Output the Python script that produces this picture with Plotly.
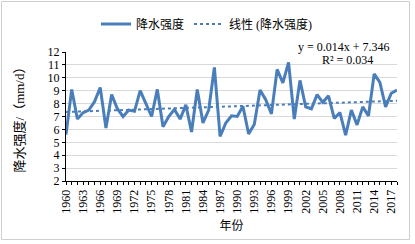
import numpy as np
import plotly.graph_objects as go

years = list(range(1960, 2019))
intensity = [5.6, 9.1, 6.8, 7.3, 7.5, 8.15, 9.25, 6.1, 8.7, 7.6,
             7.0, 7.5, 7.4, 9.0, 8.0, 7.0, 9.1, 6.2, 7.0, 7.55,
             6.8, 7.9, 5.8, 9.1, 6.5, 7.5, 10.8, 5.45, 6.5, 7.05,
             7.0, 7.8, 5.65, 6.4, 9.05, 8.3, 7.2, 10.65, 9.6, 11.2,
             6.8, 9.8, 7.75, 7.6, 8.7, 8.1, 8.6, 6.85, 7.3, 5.55,
             7.5, 6.35, 7.75, 7.05, 10.3, 9.65, 7.75, 8.8, 9.05]
tick_years = [y for y in years]
tick_text = [str(y) if (y - 1960) % 3 == 0 else "" for y in years]
y_ticks = list(range(2, 13))
series_name = "降水强度"
trend_name = "线性 (降水强度)"
eq_text = "y = 0.014x + 7.346"
r2_text = "R² = 0.034"

# linear trend fitted on the data (x = 1..n, as in Excel)
idx = np.arange(1, len(years) + 1)
slope, intercept = np.polyfit(idx, intensity, 1)
trend = slope * idx + intercept

blue = "#4a7ebb"
font_fam = "Liberation Serif, Times New Roman, Noto Sans CJK SC, serif"

W, H = 415, 244
# plot area in screen pixels
PX0, PX1, PY0, PY1 = 66, 397, 52, 181
L, T = PX0, PY0
R, B = W - PX1, H - PY1
pw, ph = W - L - R, H - T - B


def px(xs):
    return (xs - PX0) / pw


def py(ys):
    return (PY1 - ys) / ph


fig = go.Figure()
fig.add_trace(go.Scatter(x=years, y=intensity, mode="lines", name=series_name,
                         line=dict(color=blue, width=3)))
fig.add_trace(go.Scatter(x=years, y=trend, mode="lines", name=trend_name,
                         line=dict(color=blue, width=2, dash="dot")))

fig.update_layout(
    width=W, height=H,
    margin=dict(l=L, r=R, t=T, b=B, autoexpand=False),
    paper_bgcolor="white", plot_bgcolor="white",
    font=dict(family=font_fam, size=12, color="#000000"),
    legend=dict(orientation="h", x=px(207), xanchor="center",
                y=py(24), yanchor="middle",
                font=dict(size=12), itemwidth=30, bgcolor="rgba(0,0,0,0)"),
    xaxis=dict(range=[1960, 2018], tickvals=tick_years, ticktext=tick_text,
               tickangle=-90, ticks="outside", ticklen=3, tickcolor="#000",
               showline=True, linecolor="#000", linewidth=1, showgrid=False,
               zeroline=False, tickfont=dict(size=12),
               title=dict(text="年份", font=dict(size=12), standoff=8)),
    yaxis=dict(range=[2, 12], tickvals=y_ticks, ticks="outside", ticklen=3,
               tickcolor="#000", showline=True, linecolor="#000", linewidth=1,
               showgrid=True, gridcolor="#d9d9d9", gridwidth=1, zeroline=False,
               tickfont=dict(size=12),
               title=dict(text="降水强度/（mm/d）", font=dict(size=13), standoff=20)),
    annotations=[
        dict(text=eq_text, xref="paper", yref="paper",
             x=px(392), y=py(47), xanchor="right", yanchor="middle",
             showarrow=False, font=dict(size=12)),
        dict(text=r2_text, xref="paper", yref="paper",
             x=px(347), y=py(60), xanchor="center", yanchor="middle",
             showarrow=False, font=dict(size=12)),
    ],
    shapes=[dict(type="rect", xref="paper", yref="paper",
                 x0=px(1.5), x1=px(409.5), y0=py(239.5), y1=py(1.5),
                 line=dict(color="#cfcfcf", width=1), layer="below")],
)

fig.write_html("out.html",
               config={"displayModeBar": False, "staticPlot": True},
               post_script="document.body.style.margin='0';"
                           "document.body.style.overflow='hidden';")
